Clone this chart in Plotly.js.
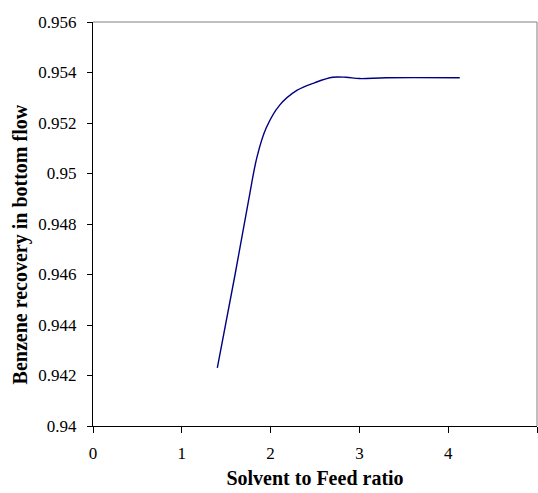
<!DOCTYPE html>
<html>
<head>
<meta charset="utf-8">
<script src="https://cdn.plot.ly/plotly-3.0.1.min.js"></script>
<style>html,body{margin:0;padding:0;background:#fff;}#chart{width:538px;height:493px;}</style>
</head>
<body>
<div id="chart"></div>
<script>
// Solvent to Feed ratio
const ratio = [1.4, 1.6, 1.75, 1.85, 1.95, 2.1, 2.3, 2.5, 2.7, 2.85, 3.0, 3.3, 4.13];
// Benzene recovery in bottom flow
const recovery = [0.9423, 0.9460, 0.9489, 0.9507, 0.9518, 0.9527, 0.9533, 0.9536, 0.95381, 0.95381, 0.95376, 0.95379, 0.95379];
const xTicks = [0, 1, 2, 3, 4, 5];
const yTicks = [0.94, 0.942, 0.944, 0.946, 0.948, 0.95, 0.952, 0.954, 0.956];
const yTickText = ['0.94', '0.942', '0.944', '0.946', '0.948', '0.95', '0.952', '0.954', '0.956'];
const xTitle = 'Solvent to Feed ratio';
const yTitle = 'Benzene recovery in bottom flow';

const serif = 'Liberation Serif';
const trace = {
  x: ratio, y: recovery, type: 'scatter', mode: 'lines',
  line: {color: '#000080', width: 1.4, shape: 'spline', smoothing: 1},
  hoverinfo: 'skip'
};
const layout = {
  width: 538, height: 493,
  margin: {l: 93, r: 1, t: 22, b: 67},
  paper_bgcolor: '#fff', plot_bgcolor: '#fff',
  font: {family: serif, color: '#000'},
  showlegend: false,
  xaxis: {
    range: [0, 5], tickvals: xTicks, ticktext: xTicks.map(String),
    showgrid: false, zeroline: false,
    showline: true, linecolor: '#000', linewidth: 1,
    ticks: 'outside', ticklen: 6, tickcolor: '#000', ticklabelstandoff: 6,
    tickfont: {family: serif, size: 17, color: '#000'},
    title: {text: xTitle, font: {family: serif, size: 20, color: '#000', weight: 'bold'}, standoff: 8}
  },
  yaxis: {
    range: [0.94, 0.956], tickvals: yTicks, ticktext: yTickText,
    showgrid: false, zeroline: false,
    showline: true, linecolor: '#000', linewidth: 1,
    ticks: 'outside', ticklen: 5, tickcolor: '#000', ticklabelstandoff: 7,
    tickfont: {family: serif, size: 17, color: '#000'}
  },
  annotations: [{
    text: yTitle, xref: 'paper', yref: 'paper',
    x: -0.164, y: 0.45, xanchor: 'center', yanchor: 'middle',
    textangle: -90, showarrow: false,
    font: {family: serif, size: 20, color: '#000', weight: 'bold'}
  }],
  shapes: [
    {type: 'line', xref: 'paper', yref: 'paper', x0: 0, x1: 1, y0: 1, y1: 1, line: {color: '#808080', width: 1}},
    {type: 'line', xref: 'paper', yref: 'paper', x0: 1, x1: 1, y0: 0, y1: 1, line: {color: '#808080', width: 1}}
  ]
};
Plotly.newPlot('chart', [trace], layout, {displayModeBar: false, staticPlot: true});
</script>
</body>
</html>
